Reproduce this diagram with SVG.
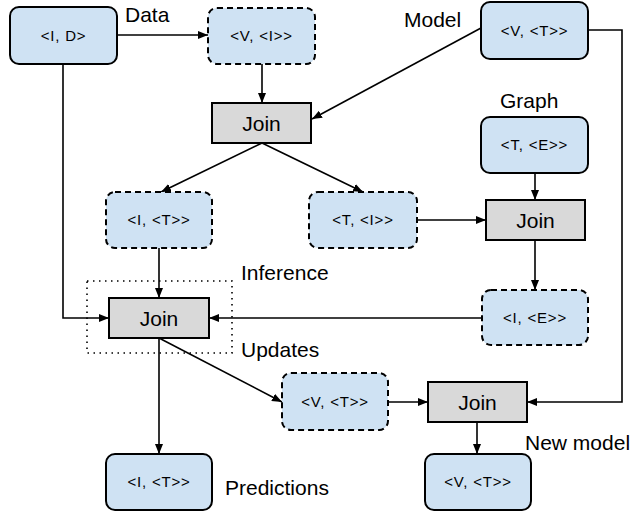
<svg xmlns="http://www.w3.org/2000/svg" width="632" height="514" viewBox="0 0 632 514">
<style>
.n{fill:#cfe2f3;stroke:#000;stroke-width:2}
.d{stroke-dasharray:6,4}
.j{fill:#d9d9d9;stroke:#000;stroke-width:2}
.t{font-family:"Liberation Sans",Arial,sans-serif;font-size:15px;letter-spacing:0.8px;text-anchor:middle;fill:#000}
.jt{font-family:"Liberation Sans",Arial,sans-serif;font-size:21px;text-anchor:middle;fill:#000}
.l{font-family:"Liberation Sans",Arial,sans-serif;font-size:21px;fill:#000}
.c{fill:none;stroke:#000;stroke-width:1.6}
</style>
<defs>
<marker id="a" viewBox="0 0 10 8" refX="10" refY="4" markerWidth="10" markerHeight="8" markerUnits="userSpaceOnUse" orient="auto">
<path d="M0,0L10,4L0,8z" fill="#000"/>
</marker>
</defs>
<rect x="87" y="281" width="145" height="72" fill="none" stroke="#000" stroke-width="1.6" stroke-dasharray="1.5,4.5"/>
<g id="connectors">
<path class="c" d="M117,35H208" marker-end="url(#a)"/>
<path class="c" d="M262,64V103" marker-end="url(#a)"/>
<path class="c" d="M481,28L312,119" marker-end="url(#a)"/>
<path class="c" d="M262,143L161,192" marker-end="url(#a)"/>
<path class="c" d="M262,143L363,192" marker-end="url(#a)"/>
<path class="c" d="M535,173V200" marker-end="url(#a)"/>
<path class="c" d="M417,220H486" marker-end="url(#a)"/>
<path class="c" d="M535,240V290" marker-end="url(#a)"/>
<path class="c" d="M159,248V298" marker-end="url(#a)"/>
<path class="c" d="M63,64V318H109" marker-end="url(#a)"/>
<path class="c" d="M482,318H209" marker-end="url(#a)"/>
<path class="c" d="M159,338V454" marker-end="url(#a)"/>
<path class="c" d="M159,338L282,402" marker-end="url(#a)"/>
<path class="c" d="M388,402H428" marker-end="url(#a)"/>
<path class="c" d="M588,30H622V402H527" marker-end="url(#a)"/>
<path class="c" d="M477,422V454" marker-end="url(#a)"/>
</g>
<g id="n-id"><rect class="n" x="10" y="7" width="107" height="57" rx="9"/><text class="t" x="63.5" y="41">&lt;I, D&gt;</text></g>
<g id="n-vi"><rect class="n d" x="208" y="8" width="107" height="56" rx="9"/><text class="t" x="261.5" y="41">&lt;V, &lt;I&gt;&gt;</text></g>
<g id="n-model"><rect class="n" x="481" y="2" width="107" height="57" rx="9"/><text class="t" x="534.5" y="35.5">&lt;V, &lt;T&gt;&gt;</text></g>
<g id="join1"><rect class="j" x="212" y="103" width="99" height="40"/><text class="jt" x="261.5" y="130.5">Join</text></g>
<g id="n-te"><rect class="n" x="481" y="117" width="107" height="56" rx="9"/><text class="t" x="534.5" y="150">&lt;T, &lt;E&gt;&gt;</text></g>
<g id="n-it"><rect class="n d" x="106" y="192" width="106" height="56" rx="9"/><text class="t" x="159" y="225">&lt;I, &lt;T&gt;&gt;</text></g>
<g id="n-ti"><rect class="n d" x="309" y="192" width="108" height="56" rx="9"/><text class="t" x="363" y="225">&lt;T, &lt;I&gt;&gt;</text></g>
<g id="join2"><rect class="j" x="486" y="200" width="99" height="40"/><text class="jt" x="535.5" y="227.5">Join</text></g>
<g id="n-ie"><rect class="n d" x="482" y="290" width="106" height="55" rx="9"/><text class="t" x="535" y="323">&lt;I, &lt;E&gt;&gt;</text></g>
<g id="join3"><rect class="j" x="109" y="298" width="100" height="40"/><text class="jt" x="159" y="325.5">Join</text></g>
<g id="n-vt"><rect class="n d" x="282" y="373" width="106" height="57" rx="9"/><text class="t" x="335" y="407">&lt;V, &lt;T&gt;&gt;</text></g>
<g id="join4"><rect class="j" x="428" y="382" width="99" height="40"/><text class="jt" x="477.5" y="409.5">Join</text></g>
<g id="n-pred"><rect class="n" x="106" y="454" width="106" height="56" rx="9"/><text class="t" x="159" y="487">&lt;I, &lt;T&gt;&gt;</text></g>
<g id="n-new"><rect class="n" x="425" y="454" width="106" height="56" rx="9"/><text class="t" x="478" y="487">&lt;V, &lt;T&gt;&gt;</text></g>
<g id="labels">
<text class="l" x="125" y="22">Data</text>
<text class="l" x="404" y="27">Model</text>
<text class="l" x="500" y="108">Graph</text>
<text class="l" x="241" y="280">Inference</text>
<text class="l" x="241" y="357">Updates</text>
<text class="l" x="525" y="450">New model</text>
<text class="l" x="225" y="495">Predictions</text>
</g>
</svg>
